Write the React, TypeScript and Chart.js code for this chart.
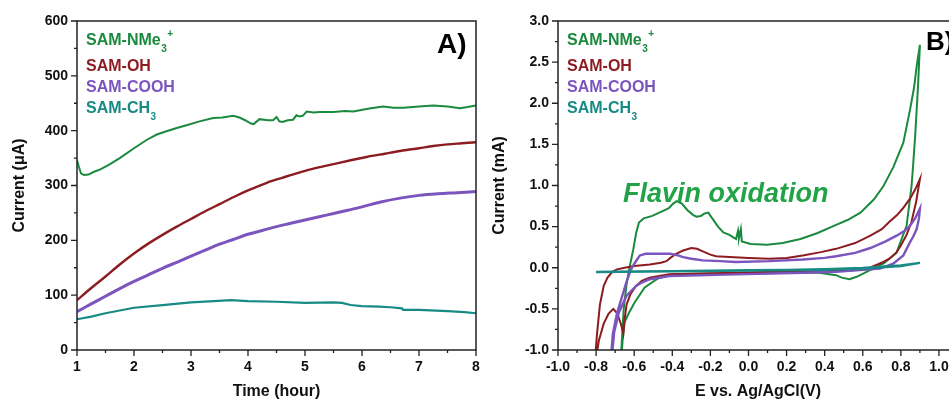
import React, { useEffect, useRef } from 'react';
import { Chart, registerables } from 'chart.js';

Chart.register(...registerables);

const FONT = '"Liberation Sans", Arial, Helvetica, sans-serif';
const GREEN = '#1b8a3e';
const RED = '#8c1c1f';
const PURPLE = '#7b55bd';
const TEAL = '#188a85';
const FLAVIN = '#22a347';

// ---------- Legend text ----------
const seriesNames = ['SAM-NMe', 'SAM-OH', 'SAM-COOH', 'SAM-CH'];
const seriesSubs = ['3', '', '', '3'];
const seriesSups = ['+', '', '', ''];
const seriesColors = [GREEN, RED, PURPLE, TEAL];
const datasetLabels = ['SAM-NMe3+', 'SAM-OH', 'SAM-COOH', 'SAM-CH3'];

// ---------- Panel A: current vs time ----------
const nme3TimeA = [1.0, 1.03, 1.07, 1.12, 1.2, 1.3, 1.4, 1.55, 1.75, 2.0, 2.22, 2.4, 2.57, 2.75, 2.92, 3.15, 3.39, 3.55, 3.74, 3.85, 3.95, 4.05, 4.1, 4.2, 4.35, 4.44, 4.5, 4.55, 4.6, 4.7, 4.79, 4.85, 4.9, 4.96, 5.03, 5.15, 5.26, 5.5, 5.7, 5.85, 6.1, 6.37, 6.55, 6.73, 7.0, 7.25, 7.5, 7.72, 7.85, 8.0];
const nme3CurrentA = [346, 335, 322, 319, 320, 325, 329, 337, 350, 368, 383, 393, 399, 405, 410, 417, 423, 424, 427, 424, 419, 413, 412, 421, 419, 419, 425, 417, 416, 419, 420, 428, 426, 427, 435, 433, 434, 434, 436, 435, 440, 444, 442, 442, 444, 446, 444, 441, 443, 446];

const ohTimeA = [1.0, 1.25, 1.5, 1.75, 2.0, 2.25, 2.5, 2.75, 3.0, 3.25, 3.5, 3.75, 4.0, 4.33, 4.6, 4.91, 5.2, 5.5, 5.8, 6.08, 6.4, 6.67, 7.0, 7.25, 7.5, 7.75, 8.0];
const ohCurrentA = [91, 113, 134, 156, 176, 194, 210, 225, 239, 253, 266, 279, 291, 305, 314, 324, 332, 339, 346, 352, 358, 363, 368, 372, 375, 377, 379];

const coohTimeA = [1.0, 1.25, 1.5, 1.75, 2.0, 2.25, 2.5, 2.75, 3.0, 3.25, 3.5, 3.75, 4.0, 4.25, 4.5, 4.75, 5.0, 5.25, 5.5, 5.75, 6.0, 6.33, 6.67, 7.0, 7.33, 7.67, 8.0];
const coohCurrentA = [70, 84, 98, 112, 125, 137, 149, 160, 171, 182, 193, 202, 211, 218, 225, 231, 237, 243, 249, 255, 261, 270, 277, 282, 285, 287, 289];

const ch3TimeA = [1.0, 1.25, 1.5, 1.75, 2.0, 2.5, 3.0, 3.4, 3.7, 4.0, 4.5, 5.0, 5.5, 5.65, 5.8, 6.0, 6.3, 6.5, 6.7, 6.72, 7.0, 7.5, 7.8, 8.0];
const ch3CurrentA = [56, 61, 67, 72, 77, 82, 87, 89, 91, 89, 88, 86, 87, 86, 82, 80, 79, 78, 76, 73, 73, 71, 69, 67];

const xTicksA = [1, 2, 3, 4, 5, 6, 7, 8];
const xMinorA = [1.5, 2.5, 3.5, 4.5, 5.5, 6.5, 7.5];
const yTicksA = [0, 100, 200, 300, 400, 500, 600];
const yMinorA = [50, 150, 250, 350, 450, 550];

// ---------- Panel B: cyclic voltammograms ----------
const nme3PotentialB = [-0.67, -0.665, -0.655, -0.64, -0.625, -0.605, -0.59, -0.575, -0.55, -0.505, -0.46, -0.42, -0.395, -0.377, -0.35, -0.32, -0.29, -0.272, -0.25, -0.23, -0.211, -0.19, -0.16, -0.132, -0.1, -0.08, -0.065, -0.055, -0.05, -0.04, -0.035, 0.011, 0.098, 0.18, 0.273, 0.36, 0.448, 0.52, 0.588, 0.658, 0.708, 0.76, 0.813, 0.848, 0.87, 0.883, 0.9,
  0.89, 0.875, 0.863, 0.856, 0.83, 0.777, 0.708, 0.638, 0.568, 0.53, 0.49, 0.46, 0.37, 0.2, 0.0, -0.2, -0.4, -0.475, -0.545, -0.597, -0.63, -0.65, -0.66, -0.668];
const nme3CurrentB = [-1.1, -0.9, -0.5, -0.2, 0.0, 0.22, 0.42, 0.55, 0.6, 0.63, 0.68, 0.72, 0.78, 0.81, 0.78, 0.7, 0.64, 0.62, 0.63, 0.66, 0.67, 0.6, 0.5, 0.43, 0.4, 0.37, 0.35, 0.45, 0.36, 0.47, 0.32, 0.29, 0.28, 0.3, 0.35, 0.42, 0.51, 0.58, 0.67, 0.83, 0.99, 1.22, 1.52, 1.92, 2.2, 2.45, 2.71,
  2.2, 1.6, 1.2, 0.99, 0.51, 0.18, 0.05, -0.03, -0.11, -0.14, -0.12, -0.09, -0.06, -0.06, -0.07, -0.07, -0.08, -0.13, -0.24, -0.42, -0.56, -0.66, -0.86, -1.1];

const ohPotentialB = [-0.805, -0.795, -0.78, -0.76, -0.74, -0.715, -0.69, -0.65, -0.6, -0.518, -0.46, -0.431, -0.41, -0.38, -0.343, -0.3, -0.27, -0.24, -0.2, -0.17, -0.1, 0.0, 0.11, 0.2, 0.285, 0.38, 0.46, 0.56, 0.64, 0.7, 0.74, 0.78, 0.81, 0.848, 0.875, 0.9,
  0.88, 0.855, 0.83, 0.8, 0.778, 0.74, 0.708, 0.638, 0.55, 0.285, -0.066, -0.416, -0.52, -0.56, -0.59, -0.62, -0.64, -0.65, -0.657, -0.67, -0.69, -0.71, -0.735, -0.76, -0.785, -0.8];
const ohCurrentB = [-1.1, -0.8, -0.45, -0.22, -0.12, -0.05, -0.02, 0.0, 0.02, 0.04, 0.06, 0.08, 0.12, 0.17, 0.21, 0.24, 0.23, 0.2, 0.16, 0.14, 0.13, 0.12, 0.11, 0.12, 0.15, 0.19, 0.23, 0.3, 0.39, 0.47, 0.56, 0.64, 0.72, 0.84, 0.95, 1.08,
  0.8, 0.55, 0.4, 0.27, 0.19, 0.11, 0.07, 0.0, -0.03, -0.04, -0.06, -0.08, -0.12, -0.16, -0.22, -0.32, -0.45, -0.62, -0.8, -0.68, -0.55, -0.5, -0.56, -0.68, -0.88, -1.1];

const coohPotentialB = [-0.722, -0.712, -0.69, -0.67, -0.64, -0.62, -0.605, -0.585, -0.57, -0.54, -0.48, -0.41, -0.37, -0.343, -0.3, -0.24, -0.15, -0.066, 0.11, 0.285, 0.4, 0.46, 0.56, 0.64, 0.72, 0.778, 0.82, 0.848, 0.875, 0.9,
  0.895, 0.883, 0.865, 0.848, 0.813, 0.76, 0.69, 0.638, 0.46, 0.285, -0.066, -0.416, -0.518, -0.56, -0.59, -0.64, -0.68, -0.705, -0.718];
const coohCurrentB = [-1.1, -0.8, -0.55, -0.4, -0.17, -0.04, 0.03, 0.1, 0.15, 0.17, 0.17, 0.17, 0.15, 0.13, 0.11, 0.09, 0.08, 0.07, 0.08, 0.1, 0.12, 0.14, 0.18, 0.24, 0.32, 0.39, 0.45, 0.51, 0.6, 0.72,
  0.6, 0.47, 0.38, 0.31, 0.15, 0.05, -0.01, -0.02, -0.05, -0.06, -0.08, -0.1, -0.14, -0.18, -0.22, -0.34, -0.54, -0.78, -1.1];

const ch3PotentialB = [-0.8, -0.6, -0.4, -0.2, 0.0, 0.2, 0.4, 0.6, 0.7, 0.8, 0.9, 0.8, 0.6, 0.4, 0.0, -0.4, -0.8];
const ch3CurrentB = [-0.05, -0.045, -0.04, -0.035, -0.03, -0.025, -0.015, 0.0, 0.015, 0.03, 0.06, 0.02, -0.01, -0.025, -0.035, -0.045, -0.055];

const xTicksB = [-1.0, -0.8, -0.6, -0.4, -0.2, 0.0, 0.2, 0.4, 0.6, 0.8, 1.0];
const xMinorB = [-0.9, -0.7, -0.5, -0.3, -0.1, 0.1, 0.3, 0.5, 0.7, 0.9];
const yTicksB = [-1.0, -0.5, 0.0, 0.5, 1.0, 1.5, 2.0, 2.5, 3.0];
const yMinorB = [-0.75, -0.25, 0.25, 0.75, 1.25, 1.75, 2.25, 2.75];

const zip = (xs: number[], ys: number[]) => xs.map((x, i) => ({ x, y: ys[i] }));

function drawLegend(ctx: CanvasRenderingContext2D, left: number) {
  const baselines = [45, 71, 92, 113];
  seriesNames.forEach((name, i) => {
    const y = baselines[i];
    ctx.fillStyle = seriesColors[i];
    ctx.textAlign = 'left';
    ctx.textBaseline = 'alphabetic';
    ctx.font = `bold 16px ${FONT}`;
    ctx.fillText(name, left, y);
    let x = left + ctx.measureText(name).width + 0.5;
    ctx.font = `bold 10px ${FONT}`;
    if (seriesSubs[i]) {
      ctx.fillText(seriesSubs[i], x, y + 7);
      x += ctx.measureText(seriesSubs[i]).width + 0.5;
    }
    if (seriesSups[i]) {
      ctx.fillText(seriesSups[i], x, y - 8);
    }
  });
}

function frameTicks(chart: any, xMajor: number[], xMinor: number[], yMajor: number[], yMinor: number[]) {
  const { ctx, chartArea: ca, scales } = chart;
  ctx.save();
  ctx.strokeStyle = '#222';
  ctx.lineWidth = 1.5;
  ctx.strokeRect(ca.left, ca.top, ca.right - ca.left, ca.bottom - ca.top);
  ctx.lineWidth = 1.3;
  ctx.beginPath();
  const xs = scales.x;
  const ys = scales.y;
  xMajor.forEach((v) => { const p = xs.getPixelForValue(v); ctx.moveTo(p, ca.bottom); ctx.lineTo(p, ca.bottom + 6); });
  xMinor.forEach((v) => { const p = xs.getPixelForValue(v); ctx.moveTo(p, ca.bottom); ctx.lineTo(p, ca.bottom + 3); });
  yMajor.forEach((v) => { const p = ys.getPixelForValue(v); ctx.moveTo(ca.left, p); ctx.lineTo(ca.left - 6, p); });
  yMinor.forEach((v) => { const p = ys.getPixelForValue(v); ctx.moveTo(ca.left, p); ctx.lineTo(ca.left - 3, p); });
  ctx.stroke();
  ctx.restore();
}

function axisBase(ticks: number[], fmt: (v: number) => string, isX: boolean, size: number, title: string, min: number, max: number) {
  return {
    type: 'linear',
    min,
    max,
    afterBuildTicks: (scale: any) => { scale.ticks = ticks.map((value) => ({ value })); },
    afterFit: (scale: any) => {
      if (isX) scale.height = size; else scale.width = size;
      scale.paddingLeft = 0; scale.paddingRight = 0; scale.paddingTop = 0; scale.paddingBottom = 0;
    },
    grid: { display: false, drawTicks: false },
    border: { display: false },
    ticks: {
      color: '#111',
      font: { family: FONT, size: 14, weight: 'bold' },
      padding: 9,
      maxRotation: 0,
      autoSkip: false,
      callback: (v: any) => fmt(Number(v)),
    },
    title: {
      display: true,
      text: title,
      color: '#111',
      font: { family: FONT, size: 16, weight: 'bold' },
      padding: isX ? { top: 0, bottom: 2 } : { top: 10, bottom: 0 },
    },
  };
}

export default function App() {
  const refA = useRef<HTMLCanvasElement>(null);
  const refB = useRef<HTMLCanvasElement>(null);

  useEffect(() => {
    const lineDs = (label: string, data: any[], color: string, width: number, order: number, smooth: boolean) => ({
      label,
      data,
      borderColor: color,
      backgroundColor: color,
      borderWidth: width,
      pointRadius: 0,
      fill: false,
      tension: 0,
      cubicInterpolationMode: smooth ? 'monotone' : 'default',
      order,
    });

    const chartA = new Chart(refA.current as HTMLCanvasElement, {
      type: 'line',
      data: {
        datasets: [
          lineDs(datasetLabels[0], zip(nme3TimeA, nme3CurrentA), GREEN, 2, 1, false),
          lineDs(datasetLabels[1], zip(ohTimeA, ohCurrentA), RED, 2.4, 2, true),
          lineDs(datasetLabels[2], zip(coohTimeA, coohCurrentA), PURPLE, 3, 3, true),
          lineDs(datasetLabels[3], zip(ch3TimeA, ch3CurrentA), TEAL, 2.2, 0, false),
        ],
      },
      options: {
        animation: false,
        responsive: false,
        devicePixelRatio: 1,
        layout: { padding: { left: 0, top: 21, right: 4, bottom: 0 }, autoPadding: false },
        plugins: { legend: { display: false }, tooltip: { enabled: false } },
        scales: {
          x: axisBase(xTicksA, (v) => String(v), true, 53, 'Time (hour)', 1, 8),
          y: axisBase(yTicksA, (v) => String(v), false, 77, 'Current (\u03bcA)', 0, 600),
        },
      } as any,
      plugins: [{
        id: 'decorA',
        afterDraw: (chart: any) => {
          frameTicks(chart, xTicksA, xMinorA, yTicksA, yMinorA);
          const { ctx, chartArea: ca } = chart;
          ctx.save();
          drawLegend(ctx, ca.left + 9);
          ctx.fillStyle = '#000';
          ctx.font = `bold 28px ${FONT}`;
          ctx.textAlign = 'left';
          ctx.textBaseline = 'alphabetic';
          ctx.fillText('A)', 437, 53);
          ctx.restore();
        },
      }],
    } as any);

    const chartB = new Chart(refB.current as HTMLCanvasElement, {
      type: 'line',
      data: {
        datasets: [
          lineDs(datasetLabels[0], zip(nme3PotentialB, nme3CurrentB), GREEN, 2, 3, false),
          lineDs(datasetLabels[1], zip(ohPotentialB, ohCurrentB), RED, 2, 2, false),
          lineDs(datasetLabels[2], zip(coohPotentialB, coohCurrentB), PURPLE, 2.4, 1, false),
          lineDs(datasetLabels[3], zip(ch3PotentialB, ch3CurrentB), TEAL, 2.2, 0, false),
        ],
      },
      options: {
        animation: false,
        responsive: false,
        devicePixelRatio: 1,
        layout: { padding: { left: 0, top: 21, right: 2, bottom: 0 }, autoPadding: false },
        plugins: { legend: { display: false }, tooltip: { enabled: false } },
        scales: {
          x: axisBase(xTicksB, (v) => v.toFixed(1), true, 53, 'E vs. Ag/AgCl(V)', -1.0, 1.1),
          y: axisBase(yTicksB, (v) => v.toFixed(1), false, 78, 'Current (mA)', -1.0, 3.0),
        },
      } as any,
      plugins: [{
        id: 'decorB',
        afterDraw: (chart: any) => {
          frameTicks(chart, xTicksB, xMinorB, yTicksB, yMinorB);
          const { ctx, chartArea: ca } = chart;
          ctx.save();
          drawLegend(ctx, ca.left + 9);
          ctx.fillStyle = FLAVIN;
          ctx.font = `italic bold 27px ${FONT}`;
          ctx.textAlign = 'left';
          ctx.textBaseline = 'alphabetic';
          ctx.fillText('Flavin oxidation', ca.left + 65, 202);
          ctx.fillStyle = '#000';
          ctx.font = `bold 26px ${FONT}`;
          ctx.fillText('B)', 446, 50);
          ctx.restore();
        },
      }],
    } as any);

    return () => {
      chartA.destroy();
      chartB.destroy();
    };
  }, []);

  return (
    <div style={{ position: 'fixed', left: 0, top: 0, width: 949, height: 403, overflow: 'hidden', background: '#fff' }}>
      <canvas ref={refA} width={480} height={403} style={{ position: 'absolute', left: 0, top: 0, display: 'block' }} />
      <canvas ref={refB} width={480} height={403} style={{ position: 'absolute', left: 480, top: 0, display: 'block' }} />
    </div>
  );
}
